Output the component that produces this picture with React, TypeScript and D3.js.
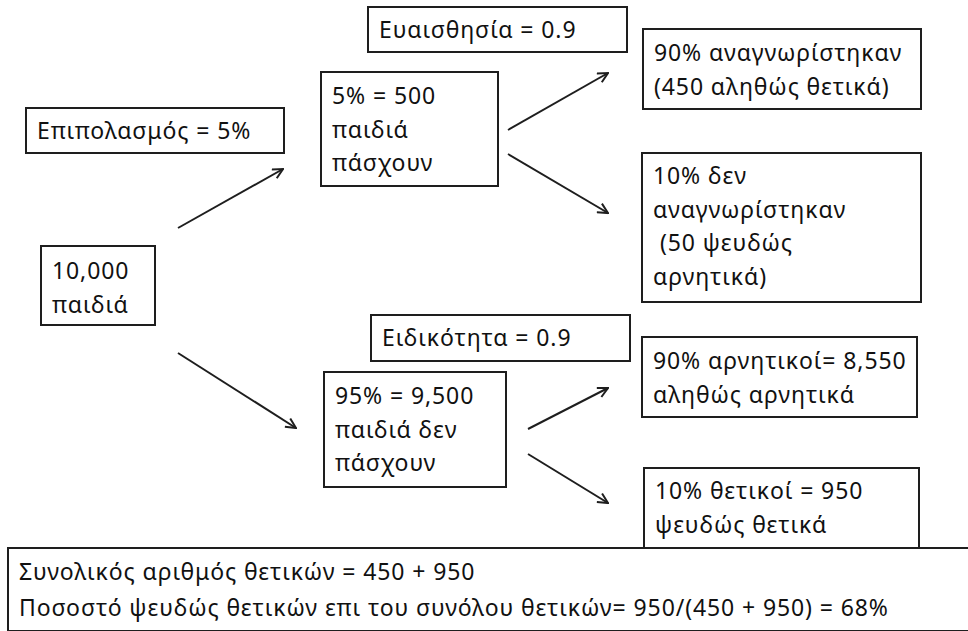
import React from "react";
import * as d3 from "d3";

// node texts (one entry per line)
const rootLines = ["10,000", "παιδιά"];
const prevalenceLines = ["Επιπολασμός = 5%"];
const sickLines = ["5% = 500", "παιδιά", "πάσχουν"];
const healthyLines = ["95% = 9,500", "παιδιά δεν", "πάσχουν"];
const sensitivityLines = ["Ευαισθησία = 0.9"];
const specificityLines = ["Ειδικότητα = 0.9"];
const truePosLines = ["90% αναγνωρίστηκαν", "(450 αληθώς θετικά)"];
const falseNegLines = ["10% δεν", "αναγνωρίστηκαν", " (50 ψευδώς", "αρνητικά)"];
const trueNegLines = ["90% αρνητικοί= 8,550", "αληθώς αρνητικά"];
const falsePosLines = ["10% θετικοί = 950", "ψευδώς θετικά"];
const summaryLines = [
  "Συνολικός αριθμός θετικών = 450 + 950",
  "Ποσοστό ψευδώς θετικών επι του συνόλου θετικών= 950/(450 + 950) = 68%",
];

// box layout [x0, y0, x1, y1]
const boxLayout: { lines: string[]; rect: [number, number, number, number]; firstBaseline: number }[] = [
  { lines: rootLines, rect: [41, 246, 155, 325], firstBaseline: 279 },
  { lines: prevalenceLines, rect: [26, 108, 284, 153], firstBaseline: 139 },
  { lines: sickLines, rect: [321, 72, 498, 186], firstBaseline: 104 },
  { lines: healthyLines, rect: [324, 372, 506, 487], firstBaseline: 404 },
  { lines: sensitivityLines, rect: [368, 7, 627, 52], firstBaseline: 38 },
  { lines: specificityLines, rect: [371, 315, 630, 361], firstBaseline: 346 },
  { lines: truePosLines, rect: [643, 29, 921, 109], firstBaseline: 61 },
  { lines: falseNegLines, rect: [642, 153, 921, 302], firstBaseline: 184 },
  { lines: trueNegLines, rect: [642, 337, 917, 417], firstBaseline: 369 },
  { lines: falsePosLines, rect: [644, 468, 919, 548], firstBaseline: 499 },
  { lines: summaryLines, rect: [8, 548, 972, 631], firstBaseline: 580 },
];

// arrows [x0, y0, x1, y1]
const arrows: [number, number, number, number][] = [
  [178, 228, 283, 169],
  [178, 353, 296, 428],
  [508, 130, 608, 73],
  [508, 154, 608, 213],
  [528, 429, 608, 388],
  [528, 454, 608, 503],
];

const lineHeight = 33.7;
const fontSize = 23;
const ink = "#1e1e1e";

export default function App() {
  const W = 968;
  const H = 631;
  const line = d3.line();
  return (
    <svg
      width={W}
      height={H}
      viewBox={`0 0 ${W} ${H}`}
      style={{ position: "absolute", left: 0, top: 0, background: "#fff" }}
      fontFamily="'Noto Sans', sans-serif"
      fontSize={fontSize}
      letterSpacing={0.9}
    >
      <defs>
        <marker
          id="arrowHead"
          viewBox="0 0 12 12"
          refX={11}
          refY={6}
          markerWidth={12}
          markerHeight={12}
          markerUnits="userSpaceOnUse"
          orient="auto"
        >
          <path d="M1,1 L11,6 L1,11" fill="none" stroke={ink} strokeWidth={2} />
        </marker>
      </defs>
      <rect width={W} height={H} fill="#fff" />
      {boxLayout.map((b, i) => {
        const [x0, y0, x1, y1] = b.rect;
        return (
          <g key={i}>
            <rect x={x0} y={y0} width={x1 - x0} height={y1 - y0} fill="#fff" stroke={ink} strokeWidth={2} />
            {b.lines.map((t, j) => (
              <text
                key={j}
                x={x0 + 11}
                y={b.firstBaseline + j * (b.lines === summaryLines ? 36 : lineHeight)}
                fill="#111"
                style={{ whiteSpace: "pre" }}
              >
                {t}
              </text>
            ))}
          </g>
        );
      })}
      {arrows.map((a, i) => (
        <path
          key={i}
          d={line([[a[0], a[1]], [a[2], a[3]]]) ?? ""}
          stroke={ink}
          strokeWidth={2}
          fill="none"
          markerEnd="url(#arrowHead)"
        />
      ))}
    </svg>
  );
}
